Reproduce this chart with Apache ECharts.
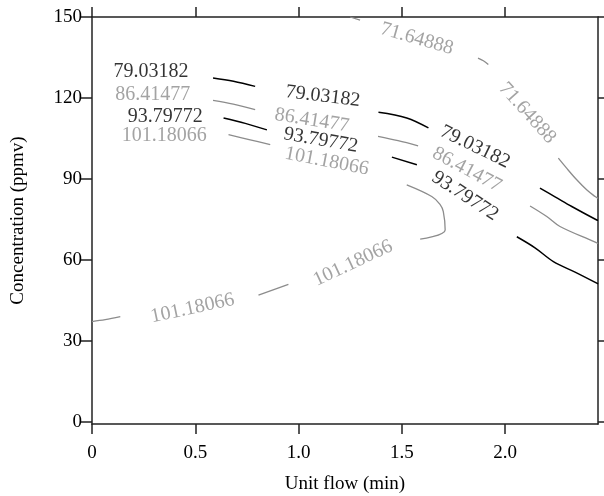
<!DOCTYPE html>
<html>
<head>
<meta charset="utf-8">
<script src="https://cdn.jsdelivr.net/npm/echarts@6/dist/echarts.min.js"></script>
<style>html,body{margin:0;padding:0;background:#fff}#c{width:604px;height:496px}</style>
</head>
<body>
<div id="c"></div>
<script>
// ---- data ----
const xTicks = [0, 0.5, 1.0, 1.5, 2.0];
const yTicks = [0, 30, 60, 90, 120, 150];
const levels = ['71.64888', '79.03182', '86.41477', '93.79772', '101.18066'];
const levelTone = ['gray', 'black', 'gray', 'black', 'gray'];

// contour line segments (x: unit flow, y: concentration)
const c71 = [
  [[1.25,150],[1.298,148.8]],
  [[1.869,134.8],[1.895,133.8],[1.919,132.4]],
  [[2.258,97.7],[2.298,94.0],[2.347,89.7],[2.395,86.0],[2.436,83.5],[2.45,82.8]]
];
const c79 = [
  [[0.586,127.4],[0.685,126.2],[0.790,124.3]],
  [[1.387,114.7],[1.524,112.6],[1.629,108.9]],
  [[2.169,86.6],[2.242,83.4],[2.323,79.8],[2.444,74.8],[2.45,74.7]]
];
const c86 = [
  [[0.586,119.1],[0.684,117.7],[0.790,115.7]],
  [[1.385,105.8],[1.482,104.2],[1.579,102.3]],
  [[2.121,80.0],[2.202,76.1],[2.266,72.4],[2.431,66.8],[2.45,66.1]]
];
const c94 = [
  [[0.637,112.6],[0.742,110.6],[0.847,108.2]],
  [[1.452,98.1],[1.573,95.3]],
  [[2.057,68.6],[2.145,64.5],[2.234,59.4],[2.339,55.5],[2.444,51.4],[2.45,51.1]]
];
const c101 = [
  [[0.661,106.4],[0.766,104.5],[0.863,102.7]],
  [[1.524,87.8],[1.645,83.5],[1.685,80.6],[1.701,77.9],[1.710,71.1],[1.589,67.7]],
  [[0.806,47.0],[0.951,51.0]],
  [[0,37.2],[0.064,37.9],[0.137,39.0]]
];
// contour labels: [x, y, angle]
const l71 = [[1.573,141.9,-16],[2.108,114.4,-48]];
const l79 = [[0.286,129.9,0],[1.118,120.6,-7],[1.855,101.9,-26]];
const l86 = [[0.294,121.2,0],[1.065,111.7,-9],[1.815,93.4,-28]];
const l94 = [[0.355,112.9,0],[1.108,104.3,-10],[1.806,83.7,-33]];
const l101 = [[0.350,106.1,0],[1.137,96.5,-11],[1.264,58.8,25],[0.487,42.1,12]];

const lines = [c71, c79, c86, c94, c101];
const labels = [l71, l79, l86, l94, l101];

// ---- styles ----
const FONT = 'Liberation Serif';
const tone = { gray: '#8c8c8c', black: '#000000' };
const axisCol = '#222';

const series = [];
lines.forEach((segs, i) => {
  segs.forEach(seg => {
    series.push({
      type: 'line', data: seg, showSymbol: false, symbol: 'none', smooth: 0.35,
      lineStyle: { color: tone[levelTone[i]], width: levelTone[i] === 'black' ? 1.5 : 1.3 },
      silent: true, z: 3
    });
  });
});
labels.forEach((ls, i) => {
  series.push({
    type: 'scatter', symbolSize: 0, silent: true, z: 4,
    data: ls.map(p => ({ value: [p[0], p[1]], label: { rotate: p[2] } })),
    label: {
      show: true, position: 'inside', formatter: () => levels[i],
      color: tone[levelTone[i]], fontFamily: FONT, fontSize: 20,
      align: 'center', verticalAlign: 'middle'
    }
  });
});

const chart = echarts.init(document.getElementById('c'), null, { renderer: 'canvas' });
chart.setOption({
  animation: false,
  backgroundColor: '#fff',
  grid: { left: 92, right: 6, top: 17, bottom: 72, containLabel: false, outerBoundsMode: 'none' },
  xAxis: [
    {
      type: 'value', position: 'bottom', min: 0, max: 2.45,
      name: 'Unit flow (min)', nameLocation: 'middle', nameGap: 51,
      nameTextStyle: { fontFamily: FONT, fontSize: 19, color: '#000' },
      axisLine: { show: true, onZero: false, lineStyle: { color: axisCol, width: 1.5 } },
      axisTick: { show: true, inside: false, length: 10, customValues: xTicks, lineStyle: { color: axisCol, width: 1.5 } },
      axisLabel: { show: true, customValues: xTicks, margin: 20, fontFamily: FONT, fontSize: 19, color: '#000',
        formatter: v => v === 0 ? '0' : v.toFixed(1) },
      splitLine: { show: false }
    },
    {
      type: 'value', position: 'top', min: 0, max: 2.45,
      axisLine: { show: true, onZero: false, lineStyle: { color: axisCol, width: 1.5 } },
      axisTick: { show: true, inside: false, length: 10, customValues: xTicks, lineStyle: { color: axisCol, width: 1.5 } },
      axisLabel: { show: false },
      splitLine: { show: false }
    }
  ],
  yAxis: [
    {
      type: 'value', position: 'left', min: -0.75, max: 150,
      name: 'Concentration (ppmv)', nameLocation: 'middle', nameGap: 64,
      nameTextStyle: { fontFamily: FONT, fontSize: 19, color: '#000' },
      axisLine: { show: true, onZero: false, lineStyle: { color: axisCol, width: 1.5 } },
      axisTick: { show: true, inside: false, length: 11, customValues: yTicks, lineStyle: { color: axisCol, width: 1.5 } },
      axisLabel: { show: true, customValues: yTicks, margin: 10, fontFamily: FONT, fontSize: 19, color: '#000' },
      splitLine: { show: false }
    },
    {
      type: 'value', position: 'right', min: -0.75, max: 150,
      axisLine: { show: true, onZero: false, lineStyle: { color: axisCol, width: 1.5 } },
      axisTick: { show: true, inside: false, length: 8, customValues: yTicks, lineStyle: { color: axisCol, width: 1.5 } },
      axisLabel: { show: false },
      splitLine: { show: false }
    }
  ],
  series: series
});
</script>
</body>
</html>
